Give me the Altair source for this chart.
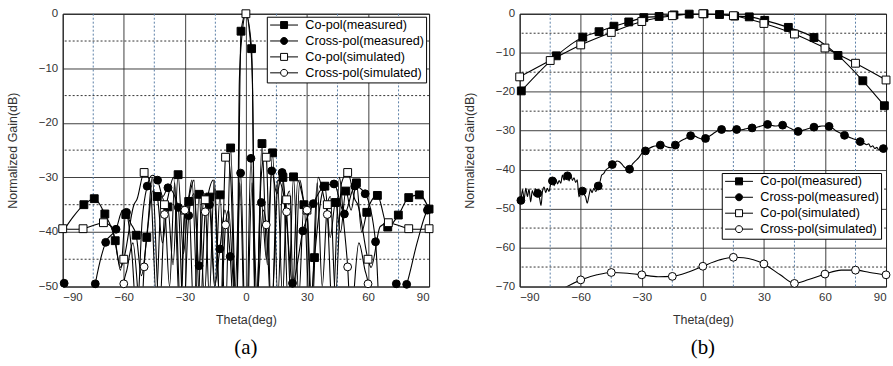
import altair as alt
import pandas as pd

SERIES = ["Co-pol(measured)", "Cross-pol(measured)", "Co-pol(simulated)", "Cross-pol(simulated)"]
SHAPES = ["square", "circle", "square", "circle"]
FILLS = ["black", "black", "white", "white"]
STROKES = ["black", "black", "black", "black"]
LEGEND_PATHS = [
    "M-1,0L1.1,0M2.5,0L4.6,0M1.1,-0.7L2.5,-0.7L2.5,0.7L1.1,0.7Z",
    "M-1,0L1.1,0M2.5,0L4.6,0M1.1,0A0.7,0.7 0 1,0 2.5,0A0.7,0.7 0 1,0 1.1,0Z",
    "M-1,0L1.1,0M2.5,0L4.6,0M1.1,-0.7L2.5,-0.7L2.5,0.7L1.1,0.7Z",
    "M-1,0L1.1,0M2.5,0L4.6,0M1.1,0A0.7,0.7 0 1,0 2.5,0A0.7,0.7 0 1,0 1.1,0Z",
]

X_MAJOR = [-90, -60, -30, 0, 30, 60, 90]
X_MINOR = [-75, -45, -15, 15, 45, 75]
A_Y_MAJOR = [-50, -40, -30, -20, -10, 0]
A_Y_MINOR = [-45, -35, -25, -15, -5]
B_Y_MAJOR = [-70, -60, -50, -40, -30, -20, -10, 0]
B_Y_MINOR = [-65, -55, -45, -35, -25, -15, -5]

# ---------- panel (a): (theta, gain, marker) ----------
A_CO_MEAS = [
    (-90, -40, 0), (-84.8, -37.2, 0), (-79.6, -35, 1), (-74.5, -33.9, 1), (-69.3, -36.7, 1),
    (-64.2, -41.6, 1), (-61.6, -47, 0), (-59, -36.8, 1), (-56.5, -38.5, 0), (-53.9, -40.6, 1),
    (-51.3, -48, 0), (-48.7, -41, 1), (-45.8, -32.5, 0), (-43.6, -33.5, 1), (-41, -42, 0),
    (-38.4, -35.4, 1), (-35.8, -46, 0), (-33.3, -29.5, 1), (-30.7, -44, 0), (-28.1, -34.4, 1),
    (-25.5, -56, 0), (-23, -33.1, 1), (-20.4, -52, 0), (-17.8, -33.6, 1), (-15.2, -50, 0),
    (-12.7, -33.2, 1), (-10.1, -56, 0), (-7.5, -24.6, 1), (-4.6, -58, 0), (-2.4, -3.2, 1),
    (0, 0, 0), (2.8, -6.4, 1), (5, -58, 0), (7.9, -23.8, 1), (10.5, -46, 0), (13.1, -25.5, 1),
    (15.7, -52, 0), (18.2, -30, 1), (20.8, -54, 0), (23.4, -29.9, 1), (26, -52, 0),
    (28.5, -35, 1), (31.5, -55, 0), (33.7, -44.7, 1), (38.8, -31.6, 1), (41.4, -41, 0),
    (44, -34.6, 1), (46.5, -40, 0), (49.1, -32.5, 1), (51.7, -36, 0), (54.3, -31, 1),
    (56.9, -40, 0), (59.4, -36.4, 1), (64.6, -33.3, 1), (69.7, -39.1, 1), (74.9, -36.9, 1),
    (80, -33.7, 1), (85.2, -33.2, 1), (90, -35.8, 1),
]
A_X_MEAS = [
    (-90, -48.6, 0), (-89.3, -49.4, 1), (-86.5, -60, 0), (-80, -64, 0), (-76.5, -55, 0),
    (-74, -49.5, 1), (-68.9, -41.9, 1), (-63.8, -39.5, 1), (-60.5, -36, 0), (-58.7, -36.4, 1),
    (-56, -44, 0), (-53.6, -56, 0), (-51, -38, 0), (-48.5, -31.6, 1), (-46, -29.6, 0),
    (-43.4, -30.5, 1), (-40.8, -33.5, 0), (-38.3, -31.9, 1), (-33.2, -35.5, 1), (-30.7, -56, 0),
    (-28.1, -37, 1), (-25.5, -33, 0), (-23, -46.2, 1), (-20.5, -33, 0), (-17.9, -35, 1),
    (-15.4, -50, 0), (-12.8, -43.1, 1), (-10.3, -36, 0), (-7.7, -44.5, 1), (-5.3, -60, 0),
    (-2.6, -29.2, 1), (0, -62, 0), (2.5, -26.5, 1), (5, -56, 0), (7.6, -34.6, 1),
    (10.1, -45, 0), (12.7, -28.8, 1), (15.2, -33, 0), (17.8, -29.1, 1), (20.4, -40, 0),
    (22.9, -49.4, 1), (28, -39.8, 1), (33.1, -34.8, 1), (38.2, -31.7, 1), (43.3, -31.2, 1),
    (48.4, -36.7, 1), (53.5, -31.6, 1), (58.6, -33, 1), (63.7, -41.8, 1), (66.5, -60, 0),
    (71, -62, 0), (73.9, -49.5, 1), (76.5, -52, 0), (79, -49.6, 1), (84.1, -42, 0),
    (89.2, -36, 1), (90, -35.6, 0),
]
A_CO_SIM = [
    (-90, -39.4, 1), (-85, -39.5, 0), (-80, -39.4, 1), (-75, -38.8, 0), (-70, -38.3, 1),
    (-66, -39, 0), (-61.5, -46.5, 0), (-60, -45, 1), (-55, -35, 0), (-53.5, -34, 0),
    (-50, -29.1, 1), (-47, -31, 0), (-44, -52, 0), (-41.5, -33.5, 0), (-40, -35, 1),
    (-37.5, -50, 0), (-35, -31, 0), (-32, -55, 0), (-30, -36, 1), (-28.5, -34.5, 0),
    (-26.5, -30.5, 0), (-23.5, -55, 0), (-21.5, -32.5, 0), (-20, -34.1, 1), (-18, -52, 0),
    (-15.5, -30.5, 0), (-12.5, -56, 0), (-10, -26.3, 1), (-9.2, -25.8, 0), (-7.5, -30, 0),
    (-4.6, -62, 0), (-3.2, -12, 0), (-1.8, -3.5, 0), (0, 0, 1), (1.8, -3.5, 0), (3.2, -12, 0),
    (4.6, -62, 0), (7.5, -30, 0), (9.2, -25.8, 0), (10, -26.3, 1), (12.5, -56, 0),
    (15.5, -30.5, 0), (18, -52, 0), (20, -34.1, 1), (21.5, -32.5, 0), (23.5, -55, 0),
    (26.5, -30.5, 0), (28.5, -34.5, 0), (30, -36, 1), (32, -55, 0), (35, -31, 0),
    (37.5, -50, 0), (40, -35, 1), (41.5, -33.5, 0), (44, -52, 0), (47, -31, 0),
    (50, -29.1, 1), (53.5, -34, 0), (55, -35, 0), (60, -45, 1), (61.5, -46.5, 0),
    (66, -39, 0), (70, -38.3, 1), (75, -38.8, 0), (80, -39.4, 1), (85, -39.5, 0), (90, -39.4, 1),
]
A_X_SIM = [
    (-90, -80, 0), (-70, -75, 0), (-62, -62, 0), (-60, -49.5, 1), (-58.5, -47, 0),
    (-55.5, -42, 0), (-51.5, -56, 0), (-50, -46.4, 1), (-48, -38, 0), (-46, -30, 0),
    (-42.5, -55, 0), (-40, -36.8, 1), (-38.5, -34, 0), (-35.5, -30, 0), (-32.5, -55, 0),
    (-30, -36, 1), (-28.5, -34.5, 0), (-25.5, -30.5, 0), (-22.5, -55, 0), (-20, -36.3, 1),
    (-19, -34, 0), (-16, -30.5, 0), (-12.5, -55, 0), (-10, -38.7, 1), (-8.5, -36, 0),
    (-5.5, -52, 0), (-3, -31, 0), (0, -65, 0), (3, -31, 0), (5.5, -52, 0), (8.5, -36, 0),
    (10, -38.7, 1), (12.5, -55, 0), (16, -30.5, 0), (19, -34, 0), (20, -36.3, 1),
    (22.5, -55, 0), (25.5, -30.5, 0), (28.5, -34.5, 0), (30, -36, 1), (32.5, -55, 0),
    (35.5, -30, 0), (38.5, -34, 0), (40, -36.8, 1), (42.5, -55, 0), (46, -30, 0),
    (48, -38, 0), (50, -46.4, 1), (51.5, -56, 0), (55.5, -42, 0), (58.5, -47, 0),
    (60, -49.5, 1), (62, -62, 0), (70, -75, 0), (90, -80, 0),
]

# ---------- panel (b) ----------
B_CO_MEAS = [
    (-89.2, -19.8, 1), (-72, -10.8, 1), (-59, -6.0, 1), (-51, -4.6, 1), (-43.7, -3.2, 1),
    (-36.4, -2.1, 1), (-29, -1.0, 1), (-21.5, -0.7, 1), (-14.2, -0.3, 1), (-6.7, -0.1, 1),
    (0.6, 0, 1), (8.2, -0.2, 1), (15.6, -0.6, 1), (22.8, -0.8, 1), (30.4, -1.7, 1),
    (42, -3.5, 1), (54.6, -6.1, 1), (66.4, -10.7, 1), (78.6, -17.2, 1), (89.2, -23.6, 1),
]
B_CO_SIM = [
    (-90, -16.2, 1), (-75, -12, 1), (-60, -8, 1), (-45, -4.8, 1), (-30, -2, 1), (-15, -0.5, 1),
    (0, 0, 1), (15, -0.5, 1), (30, -2.5, 1), (45, -5.2, 1), (60, -8.8, 1), (75, -12.7, 1),
    (90, -17, 1),
]
B_X_MEAS = [
    (-90, -48.5, 0), (-89.4, -47.9, 1), (-88.6, -45.2, 0), (-87.8, -47.6, 0), (-87, -44.8, 0),
    (-86.2, -46.9, 0), (-85.4, -45.0, 0), (-84.6, -48.3, 0), (-83.8, -45.4, 0), (-83, -46.6, 0),
    (-82.2, -44.9, 0), (-81.1, -46.1, 1), (-80.2, -47.4, 0), (-79.5, -49.2, 0), (-78.8, -45.6, 0),
    (-78, -44.5, 0), (-77.2, -45.9, 0), (-76.4, -44.8, 0), (-75.6, -45.6, 0), (-74.8, -43.8, 0),
    (-73.9, -42.9, 1), (-73, -44.1, 0), (-72.2, -42.5, 0), (-71.4, -43.7, 0), (-70.6, -42.8, 0),
    (-69.8, -43.5, 0), (-69, -41.4, 0), (-68.2, -42.7, 0), (-67.4, -41.6, 0), (-66.5, -41.6, 1),
    (-65.7, -42.9, 0), (-64.9, -41.2, 0), (-64.1, -42.8, 0), (-63.3, -42.1, 0), (-62.5, -43.3, 0),
    (-61.7, -42.6, 0), (-60.9, -47.0, 0), (-60.1, -45.9, 0), (-59.2, -45.5, 1), (-58.4, -46.3, 0),
    (-57.6, -47.0, 0), (-56.8, -48.6, 0), (-56, -46.8, 0), (-55.2, -45.1, 0), (-54.4, -45.9, 0),
    (-53.6, -44.8, 0), (-52.6, -45.6, 0), (-51.4, -44.2, 1), (-50.5, -43.0, 0), (-49.7, -41.4, 0),
    (-48.7, -41.0, 0), (-47.7, -40.1, 0), (-46.5, -39.6, 0), (-45.5, -39.2, 0), (-44.5, -38.7, 1),
    (-43.3, -38.4, 0), (-42.2, -37.8, 0), (-41, -38.0, 0), (-39.8, -38.6, 0), (-38.5, -39.4, 0),
    (-37.2, -39.7, 0), (-36, -39.9, 1), (-34.6, -38.6, 0), (-33.2, -37.8, 0), (-31.6, -37.0, 0),
    (-30, -35.8, 0), (-28.2, -35.2, 1), (-26.5, -34.6, 0), (-24.6, -34.1, 0), (-22.8, -33.9, 0),
    (-20.9, -33.7, 1), (-19, -33.9, 0), (-17, -34.3, 0), (-15.2, -34.4, 0), (-13.5, -33.7, 1),
    (-11.8, -33.0, 0), (-10, -32.4, 0), (-8, -31.9, 0), (-6, -31.3, 1), (-4, -31.4, 0),
    (-2, -31.9, 0), (0, -32.2, 0), (1.3, -32.0, 1), (3, -31.5, 0), (5, -30.8, 0), (7, -30.1, 0),
    (9.2, -29.7, 1), (11, -30.0, 0), (13, -30.1, 0), (15, -29.8, 0), (16.6, -29.7, 1),
    (18.5, -29.8, 0), (20.5, -29.6, 0), (22.5, -29.4, 0), (24.2, -29.3, 1), (26, -29.2, 0),
    (28, -28.9, 0), (30, -28.6, 0), (31.8, -28.4, 1), (33.5, -28.6, 0), (35.5, -28.8, 0),
    (37.5, -28.7, 0), (39.2, -28.6, 1), (41, -28.9, 0), (43, -29.4, 0), (45, -29.9, 0),
    (46.8, -30.2, 1), (48.5, -30.0, 0), (50.5, -29.7, 0), (52.5, -29.4, 0), (54.6, -29.1, 1),
    (56.5, -29.0, 0), (58.5, -28.8, 0), (60.5, -28.8, 0), (62, -28.9, 1), (63.8, -29.4, 0),
    (65.5, -30.1, 0), (67.5, -30.6, 0), (69.6, -31.2, 1), (71.5, -31.6, 0), (73.5, -32.0, 0),
    (75.5, -32.4, 0), (77.3, -32.8, 1), (79, -33.2, 0), (80.5, -33.6, 0), (81.5, -33.4, 0),
    (82.5, -34.2, 0), (83.5, -33.9, 0), (84.5, -34.6, 0), (85.5, -34.3, 0), (86.5, -35.0, 0),
    (87.5, -34.6, 0), (88.7, -34.6, 1),
]
B_X_SIM = [
    (-75, -72.5, 0), (-60, -68.3, 1), (-52, -67.0, 0), (-45, -66.4, 1), (-37, -66.6, 0),
    (-30, -67.0, 1), (-22, -67.5, 0), (-15, -67.4, 1), (-7, -66.3, 0), (0, -64.8, 1),
    (8, -63.2, 0), (15, -62.5, 1), (20, -62.6, 0), (30, -64.2, 1), (38, -67.0, 0),
    (45, -69.2, 1), (52, -68.2, 0), (60, -66.8, 1), (68, -65.8, 0), (75, -65.8, 1),
    (82, -66.4, 0), (90, -67.0, 1),
]

FONT = "Liberation Sans"
GRID_MAJOR = "#2a2a2a"
GRID_MINOR_H = "#333333"
GRID_MINOR_V = "#5b7fa6"


def build_panel(curves, y_domain, y_major, y_minor, leg_x, leg_y, caption):
    rows = []
    for name, pts in zip(SERIES, curves):
        for t, g, m in pts:
            rows.append({"series": name, "theta": t, "gain": g, "marker": m})
    df = pd.DataFrame(rows)

    x_axis = alt.Axis(values=X_MAJOR, grid=True, gridColor=GRID_MAJOR, gridWidth=0.9,
                      ticks=False, domain=False, labelFont=FONT, labelFontSize=11.5,
                      labelColor="#333", labelPadding=5, title="Theta(deg)",
                      titleFont=FONT, titleFontSize=12.5, titleFontWeight="normal",
                      titleColor="#333", titlePadding=11)
    y_axis = alt.Axis(values=y_major, grid=True, gridColor=GRID_MAJOR, gridWidth=0.9,
                      ticks=False, domain=False, labelFont=FONT, labelFontSize=11.5,
                      labelColor="#333", labelPadding=5, title="Normalized Gain(dB)",
                      titleFont=FONT, titleFontSize=12.5, titleFontWeight="normal",
                      titleColor="#333", titlePadding=19)
    x_enc = alt.X("theta:Q", scale=alt.Scale(domain=[-90, 90], nice=False, zero=False), axis=x_axis)
    y_enc = alt.Y("gain:Q", scale=alt.Scale(domain=y_domain, nice=False, zero=False), axis=y_axis)

    vminor = alt.Chart(pd.DataFrame({"theta": X_MINOR})).mark_rule(
        strokeDash=[2, 2], color=GRID_MINOR_V, strokeWidth=1).encode(x=x_enc)
    hminor = alt.Chart(pd.DataFrame({"gain": y_minor})).mark_rule(
        strokeDash=[2, 2], color=GRID_MINOR_H, strokeWidth=1).encode(y=y_enc)

    lines = alt.Chart(df).mark_line(interpolate="monotone", clip=True, color="black",
                                    strokeWidth=1.1).encode(x=x_enc, y=y_enc, detail="series:N")
    points = alt.Chart(df).transform_filter("datum.marker == 1").mark_point(
        filled=True, stroke="black", strokeWidth=1, size=62, opacity=1).encode(
        x=x_enc, y=y_enc,
        shape=alt.Shape("series:N", scale=alt.Scale(domain=SERIES, range=SHAPES), legend=None),
        fill=alt.Fill("series:N", scale=alt.Scale(domain=SERIES, range=FILLS), legend=None),
    )
    leg_props = dict(title=None, orient="none", legendX=leg_x, legendY=leg_y,
                     strokeColor="black", fillColor="white", padding=2, rowPadding=2,
                     labelFont=FONT, labelFontSize=12.7, labelColor="black", labelOffset=24,
                     symbolOpacity=1, symbolStrokeColor="black", symbolStrokeWidth=1,
                     symbolSize=100, cornerRadius=0)
    leg = alt.Chart(pd.DataFrame({"series": SERIES})).mark_point(
        filled=True, opacity=0, size=100).encode(
        x=alt.value(0), y=alt.value(0),
        shape=alt.Shape("series:N", scale=alt.Scale(domain=SERIES, range=LEGEND_PATHS),
                        legend=alt.Legend(**leg_props)),
        fill=alt.Fill("series:N", scale=alt.Scale(domain=SERIES, range=FILLS),
                      legend=alt.Legend(**leg_props)),
        stroke=alt.Stroke("series:N", scale=alt.Scale(domain=SERIES, range=STROKES),
                          legend=alt.Legend(**leg_props)),
    )
    return alt.layer(vminor, hminor, lines, points, leg).resolve_scale(
        shape="independent", fill="independent", stroke="independent").properties(
        width=368, height=274,
        title=alt.TitleParams(caption, orient="bottom", font="Liberation Serif", fontSize=21,
                              fontWeight="normal", color="black", anchor="middle",
                              frame="group", offset=11))


panel_a = build_panel([A_CO_MEAS, A_X_MEAS, A_CO_SIM, A_X_SIM], [-50, 0],
                      A_Y_MAJOR, A_Y_MINOR, 205, 3, "(a)")
panel_b = build_panel([B_CO_MEAS, B_X_MEAS, B_CO_SIM, B_X_SIM], [-70, 0],
                      B_Y_MAJOR, B_Y_MINOR, 203, 160, "(b)")

chart = alt.hconcat(panel_a, panel_b, spacing=26).properties(
    padding={"left": 5, "top": 6, "right": 0, "bottom": 0}, background="white"
).configure_view(stroke="black", strokeWidth=1)

chart.save("out.html", embed_options={"renderer": "svg", "actions": False})
